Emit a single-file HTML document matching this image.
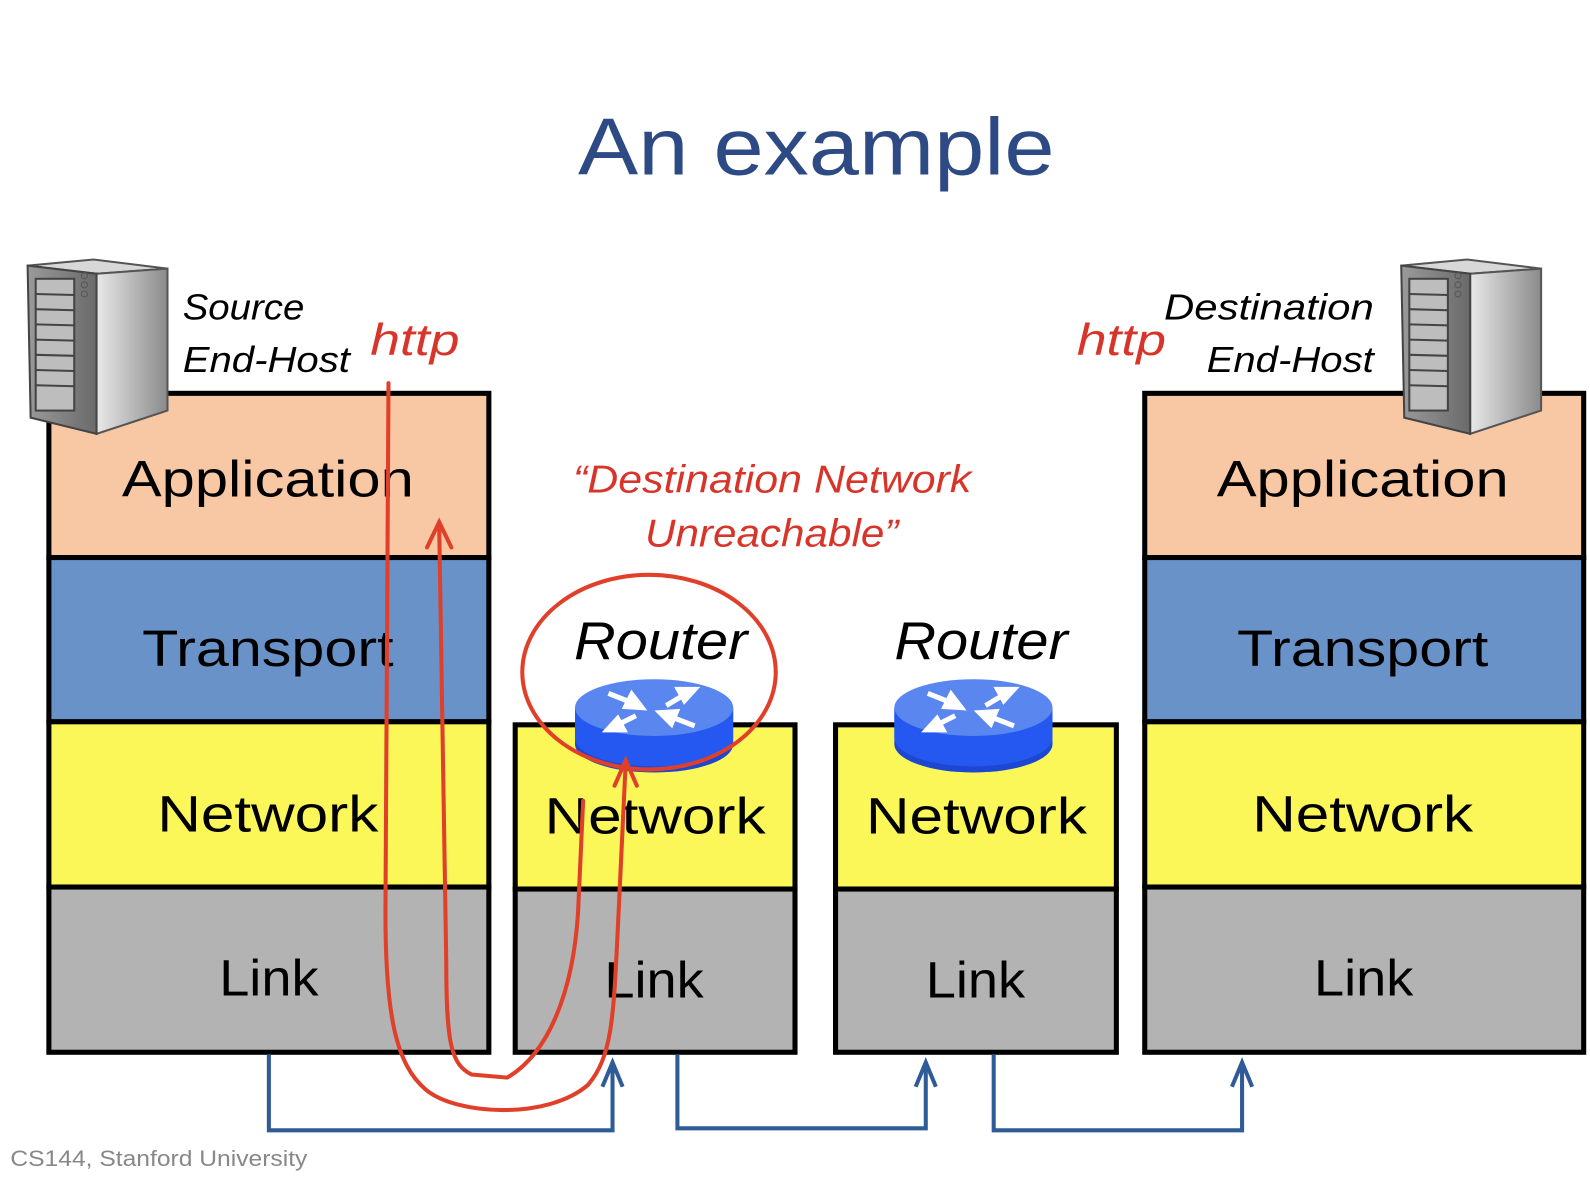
<!DOCTYPE html>
<html><head><meta charset="utf-8"><style>
html,body{margin:0;padding:0;background:#fff;}
svg{display:block;}
text{font-family:"Liberation Sans",sans-serif;}
</style></head><body>
<svg width="1590" height="1180" viewBox="0 0 1568 1164" xmlns="http://www.w3.org/2000/svg">
<defs>
<linearGradient id="side" x1="0" x2="1" y1="0" y2="0"><stop offset="0" stop-color="#e8e8e8"/><stop offset="1" stop-color="#8a8a8a"/></linearGradient>
<linearGradient id="front" x1="0" x2="1"><stop offset="0" stop-color="#9a9a9a"/><stop offset="1" stop-color="#6a6a6a"/></linearGradient>
<g id="server">
<polygon points="27,262 92,256 165,265 95,270" fill="#d8d8d8" stroke="#555" stroke-width="2"/>
<polygon points="95,270 165,265 165,405 95,428" fill="url(#side)" stroke="#555" stroke-width="2"/>
<polygon points="27,262 95,270 95,428 30,412" fill="url(#front)" stroke="#444" stroke-width="2"/>
<rect x="35" y="275" width="38" height="130" fill="#bdbdbd" stroke="#444" stroke-width="2"/>
<g stroke="#444" stroke-width="2"><line x1="35" y1="290" x2="73" y2="291"/><line x1="35" y1="305" x2="73" y2="306"/><line x1="35" y1="320" x2="73" y2="321"/><line x1="35" y1="335" x2="73" y2="336"/><line x1="35" y1="350" x2="73" y2="351"/><line x1="35" y1="365" x2="73" y2="366"/><line x1="35" y1="380" x2="73" y2="381"/></g>
<circle cx="83" cy="272" r="3" fill="none" stroke="#555"/><circle cx="83" cy="281" r="3" fill="none" stroke="#555"/><circle cx="83" cy="290" r="3" fill="none" stroke="#555"/>
</g>
<g id="router">
<path d="M-78,0 L-78,36 A78,28 0 0 0 78,36 L78,0 Z" fill="#1f4fe0"/>
<ellipse cx="0" cy="36" rx="78" ry="28" fill="#1a3fc0" opacity="0.5"/>
<path d="M-78,0 L-78,30 A78,28 0 0 0 78,30 L78,0 Z" fill="#2458f0"/>
<ellipse cx="0" cy="0" rx="78" ry="28" fill="#5a86ef"/>
<g stroke="#fff" stroke-width="5" fill="#fff">
<line x1="-45" y1="-14" x2="-20" y2="-4"/><polygon points="-12,0 -28,-1 -22,-13"/>
<line x1="12" y1="-2" x2="32" y2="-14"/><polygon points="40,-18 24,-18 30,-7"/>
<line x1="-18" y1="8" x2="-38" y2="18"/><polygon points="-46,22 -30,22 -36,11"/>
<line x1="40" y1="18" x2="14" y2="8"/><polygon points="6,5 22,4 17,16"/>
</g>
</g>
</defs>

<text x="805" y="172" font-size="80" fill="#2e4a85" text-anchor="middle" textLength="470" lengthAdjust="spacingAndGlyphs">An example</text>

<!-- left stack -->
<g stroke="#000" stroke-width="5">
<rect x="48" y="388" width="434" height="162" fill="#f8c8a4"/>
<rect x="48" y="550" width="434" height="162" fill="#6993c8"/>
<rect x="48" y="712" width="434" height="163" fill="#fcf759"/>
<rect x="48" y="875" width="434" height="163" fill="#b3b3b3"/>
<rect x="1129" y="388" width="433" height="162" fill="#f8c8a4"/>
<rect x="1129" y="550" width="433" height="162" fill="#6993c8"/>
<rect x="1129" y="712" width="433" height="163" fill="#fcf759"/>
<rect x="1129" y="875" width="433" height="163" fill="#b3b3b3"/>
<rect x="508" y="715" width="276" height="162" fill="#fcf759"/>
<rect x="508" y="877" width="276" height="161" fill="#b3b3b3"/>
<rect x="824" y="715" width="277" height="162" fill="#fcf759"/>
<rect x="824" y="877" width="277" height="161" fill="#b3b3b3"/>
</g>

<g font-size="50" fill="#000" text-anchor="middle">
<text x="264" y="490" textLength="288" lengthAdjust="spacingAndGlyphs">Application</text>
<text x="264" y="657" textLength="248" lengthAdjust="spacingAndGlyphs">Transport</text>
<text x="264" y="820" textLength="218" lengthAdjust="spacingAndGlyphs">Network</text>
<text x="265" y="982" textLength="98" lengthAdjust="spacingAndGlyphs">Link</text>
<text x="1344" y="490" textLength="288" lengthAdjust="spacingAndGlyphs">Application</text>
<text x="1344" y="657" textLength="248" lengthAdjust="spacingAndGlyphs">Transport</text>
<text x="1344" y="820" textLength="218" lengthAdjust="spacingAndGlyphs">Network</text>
<text x="1345" y="982" textLength="98" lengthAdjust="spacingAndGlyphs">Link</text>
<text x="646" y="822" textLength="218" lengthAdjust="spacingAndGlyphs">Network</text>
<text x="645" y="984" textLength="98" lengthAdjust="spacingAndGlyphs">Link</text>
<text x="963" y="822" textLength="218" lengthAdjust="spacingAndGlyphs">Network</text>
<text x="962" y="984" textLength="98" lengthAdjust="spacingAndGlyphs">Link</text>
</g>

<use href="#server"/>
<use href="#server" transform="translate(1355,0)"/>

<g font-style="italic" font-size="36" fill="#000">
<text x="180" y="315" textLength="120" lengthAdjust="spacingAndGlyphs">Source</text>
<text x="180" y="367" textLength="165" lengthAdjust="spacingAndGlyphs">End-Host</text>
<text x="1148" y="315" textLength="207" lengthAdjust="spacingAndGlyphs">Destination</text>
<text x="1190" y="367" textLength="165" lengthAdjust="spacingAndGlyphs">End-Host</text>
<text x="566" y="650" font-size="52" textLength="171" lengthAdjust="spacingAndGlyphs">Router</text>
<text x="882" y="650" font-size="52" textLength="171" lengthAdjust="spacingAndGlyphs">Router</text>
</g>
<g font-style="italic" fill="#d8352a">
<text x="365" y="350" font-size="44" textLength="88" lengthAdjust="spacingAndGlyphs">http</text>
<text x="1062" y="350" font-size="44" textLength="88" lengthAdjust="spacingAndGlyphs">http</text>
<text x="565" y="486" font-size="38" textLength="393" lengthAdjust="spacingAndGlyphs">“Destination Network</text>
<text x="636" y="539" font-size="38" textLength="250" lengthAdjust="spacingAndGlyphs">Unreachable”</text>
</g>

<use href="#router" transform="translate(645,698)"/>
<use href="#router" transform="translate(960,698)"/>

<!-- red -->
<g fill="none" stroke="#e0402a" stroke-width="4" stroke-linecap="round">
<ellipse cx="640" cy="663" rx="125" ry="96"/>
<path d="M383,378 L380,900 C380,1000 390,1050 420,1075 C450,1100 540,1105 580,1070 C605,1040 605,1000 610,900 L617,752"/>
<path d="M606,775 L617,750 L628,775"/>
<path d="M575,790 L570,900 C565,980 540,1040 500,1063 L465,1060 C445,1050 440,1030 440,950 L433,518"/>
<path d="M421,540 L433,515 L445,540"/>
</g>

<!-- blue -->
<g fill="none" stroke="#2f5b96" stroke-width="4">
<path d="M265,1040 L265,1115 L604,1115 L604,1050"/>
<path d="M594,1072 L604,1048 L614,1072"/>
<path d="M668,1040 L668,1113 L913,1113 L913,1050"/>
<path d="M903,1072 L913,1048 L923,1072"/>
<path d="M980,1040 L980,1115 L1225,1115 L1225,1050"/>
<path d="M1215,1072 L1225,1048 L1235,1072"/>
</g>

<text x="10" y="1150" font-size="22" fill="#888" textLength="293" lengthAdjust="spacingAndGlyphs">CS144, Stanford University</text>
</svg>
</body></html>
